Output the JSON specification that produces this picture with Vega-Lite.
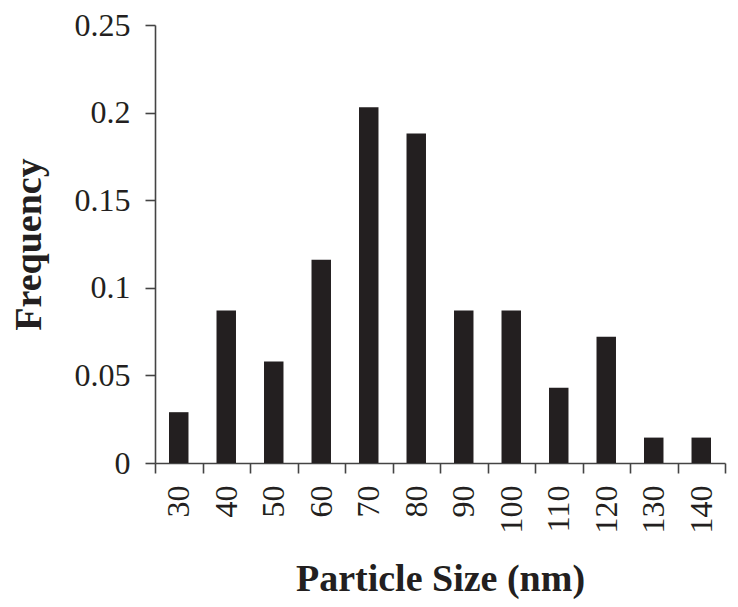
{
  "$schema": "https://vega.github.io/schema/vega-lite/v6.json",
  "autosize": "none",
  "width": 570,
  "height": 438,
  "padding": {"left": 155, "top": 25, "right": 13, "bottom": 144},
  "background": "white",
  "data": {
    "values": [
      {"size": 30, "frequency": 0.029},
      {"size": 40, "frequency": 0.087},
      {"size": 50, "frequency": 0.058},
      {"size": 60, "frequency": 0.116},
      {"size": 70, "frequency": 0.203},
      {"size": 80, "frequency": 0.188},
      {"size": 90, "frequency": 0.087},
      {"size": 100, "frequency": 0.087},
      {"size": 110, "frequency": 0.043},
      {"size": 120, "frequency": 0.072},
      {"size": 130, "frequency": 0.0145},
      {"size": 140, "frequency": 0.0145}
    ]
  },
  "mark": {"type": "bar", "color": "#231f20", "width": {"band": 0.41}},
  "encoding": {
    "x": {
      "field": "size",
      "type": "ordinal",
      "title": "Particle Size (nm)",
      "scale": {"paddingInner": 0, "paddingOuter": 0},
      "axis": {
        "labelAngle": -90,
        "tickBand": "extent",
        "tickSize": 10,
        "labelPadding": 12,
        "titlePadding": 27
      }
    },
    "y": {
      "field": "frequency",
      "type": "quantitative",
      "title": "Frequency",
      "scale": {"domain": [0, 0.25], "nice": false},
      "axis": {
        "values": [0, 0.05, 0.1, 0.15, 0.2, 0.25],
        "format": "~g",
        "grid": false,
        "tickSize": 10,
        "labelPadding": 15,
        "titlePadding": 26
      }
    }
  },
  "config": {
    "view": {"stroke": null},
    "axis": {
      "domainColor": "#444444",
      "domainWidth": 1.6,
      "tickColor": "#444444",
      "tickWidth": 1.6,
      "labelFont": "Liberation Serif",
      "labelFontSize": 32,
      "labelColor": "#231f20",
      "titleFont": "Liberation Serif",
      "titleFontSize": 38,
      "titleFontWeight": "bold",
      "titleColor": "#231f20"
    }
  }
}
